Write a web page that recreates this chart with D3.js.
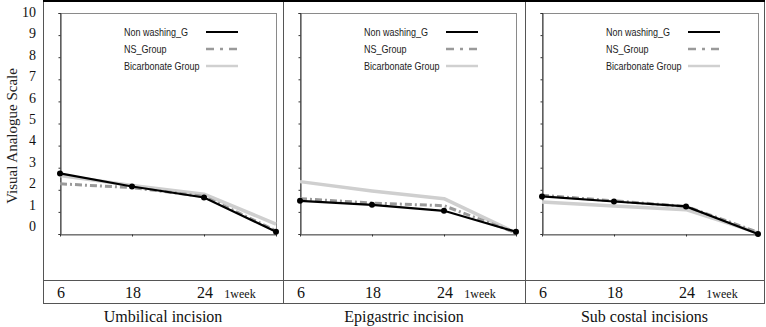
<!DOCTYPE html>
<html>
<head>
<meta charset="utf-8">
<script src="https://cdn.jsdelivr.net/npm/d3@7"></script>
<style>
  body { margin: 0; background: #fff; }
  svg { display: block; }
</style>
</head>
<body>
<svg id="chart" width="766" height="327"></svg>
<script>
// 値は図から読み取ったもの
const categories = ["6", "18", "24", "1week"];
const panelTitles = ["Umbilical incision", "Epigastric incision", "Sub costal incisions"];
const yTicks = [0, 1, 2, 3, 4, 5, 6, 7, 8, 9, 10];
const nonWashing = [[2.74, 2.15, 1.65, 0.1], [1.5, 1.32, 1.05, 0.1], [1.7, 1.47, 1.25, 0.0]];
const nsGroup = [[2.27, 2.1, 1.7, 0.15], [1.6, 1.4, 1.28, 0.05], [1.75, 1.5, 1.25, 0.08]];
const bicarbonate = [[2.65, 2.2, 1.8, 0.45], [2.37, 1.95, 1.6, 0.05], [1.45, 1.27, 1.1, 0.05]];
const seriesNames = ["Non washing_G", "NS_Group", "Bicarbonate Group"];

const svg = d3.select("#chart");
const serif = "'Liberation Serif', 'DejaVu Serif', serif";
const sans = "'Liberation Sans', sans-serif";

// 表の枠
const cellEdges = [43, 283, 525, 764];
const tableTop = 0, rowLine = 280, tableBottom = 303;
const grid = svg.append("g").attr("stroke", "#555").attr("stroke-width", 1);
cellEdges.forEach(x => {
    grid.append("line").attr("x1", x + 0.5).attr("x2", x + 0.5).attr("y1", tableTop).attr("y2", tableBottom);
});
grid.append("line").attr("x1", cellEdges[0]).attr("x2", cellEdges[3] + 1).attr("y1", rowLine + 0.5).attr("y2", rowLine + 0.5);
grid.append("line").attr("x1", cellEdges[0]).attr("x2", cellEdges[3] + 1).attr("y1", tableBottom + 0.5).attr("y2", tableBottom + 0.5);
svg.append("line").attr("x1", cellEdges[0]).attr("x2", cellEdges[3] + 1).attr("y1", 1).attr("y2", 1)
    .attr("stroke", "#000").attr("stroke-width", 2);

// 縦軸ラベル(表の外側)
const yLab = d3.scaleLinear().domain([0, 10]).range([226, 12]);
svg.append("g")
    .selectAll("text")
    .data(yTicks)
    .join("text")
    .attr("x", 36)
    .attr("y", d => yLab(d))
    .attr("dy", "0.35em")
    .attr("text-anchor", "end")
    .style("font", `14px ${serif}`)
    .attr("fill", "#111")
    .text(d => d);

svg.append("text")
    .attr("transform", "translate(12,136) rotate(-90)")
    .attr("text-anchor", "middle")
    .attr("dy", "0.35em")
    .style("font", `15px ${serif}`)
    .attr("fill", "#222")
    .text("Visual Analogue Scale");

const plotTop = 13, plotBottom = 234, plotW = 216;
const y = d3.scaleLinear().domain([0, 10]).range([plotBottom, plotTop]);

const line = d3.line()
    .x(d => d.x)
    .y(d => y(d.v));

panelTitles.forEach((title, i) => {
    const cellL = cellEdges[i], cellR = cellEdges[i + 1];
    const left = cellL + 17;
    const x = d3.scalePoint().domain(categories).range([left, left + plotW]);
    const g = svg.append("g");

    // プロット枠
    g.append("rect")
        .attr("x", left + 0.5).attr("y", plotTop + 0.5)
        .attr("width", plotW).attr("height", plotBottom - plotTop)
        .attr("fill", "none").attr("stroke", "#8a8a8a").attr("stroke-width", 1);

    const yAxis = g.append("g")
        .attr("transform", `translate(${left + 0.5},0)`)
        .call(d3.axisLeft(y).tickValues(yTicks).tickSize(2).tickFormat(""));
    yAxis.select(".domain").attr("stroke", "#333");
    yAxis.selectAll(".tick line").attr("stroke", "#333");

    const xAxis = g.append("g")
        .attr("transform", `translate(0,${plotBottom + 0.5})`)
        .call(d3.axisBottom(x).tickSize(2).tickSizeOuter(0).tickFormat(""));
    xAxis.select(".domain").attr("stroke", "#666");
    xAxis.selectAll(".tick line").attr("stroke", "#333");

    const pts = arr => arr.map((v, j) => ({ x: x(categories[j]), v }));

    g.append("path").datum(pts(bicarbonate[i]))
        .attr("d", line).attr("fill", "none")
        .attr("stroke", "#cfcfcf").attr("stroke-width", 3.5).attr("stroke-linejoin", "round");
    g.append("path").datum(pts(nsGroup[i]))
        .attr("d", line).attr("fill", "none")
        .attr("stroke", "#9a9a9a").attr("stroke-width", 3).attr("stroke-dasharray", "7,3,2,3");
    g.append("path").datum(pts(nonWashing[i]))
        .attr("d", line).attr("fill", "none")
        .attr("stroke", "#000").attr("stroke-width", 2.2);
    g.append("g").selectAll("circle")
        .data(pts(nonWashing[i]))
        .join("circle")
        .attr("cx", d => d.x).attr("cy", d => y(d.v)).attr("r", 3)
        .attr("fill", "#000");

    // 凡例
    const lx = left + plotW - 152;
    const leg = g.append("g");
    const styles = [
        { stroke: "#000", w: 2, dash: null },
        { stroke: "#9a9a9a", w: 2.5, dash: "8,6,3,6" },
        { stroke: "#d0d0d0", w: 2.5, dash: null }
    ];
    seriesNames.forEach((name, k) => {
        const ly = 32 + k * 17;
        leg.append("text")
            .attr("transform", `translate(${lx},${ly}) scale(0.82,1)`)
            .attr("dy", "0.35em")
            .style("font", `11px ${sans}`)
            .attr("fill", "#222")
            .text(name);
        leg.append("line")
            .attr("x1", lx + 82).attr("x2", lx + 114)
            .attr("y1", ly).attr("y2", ly)
            .attr("stroke", styles[k].stroke)
            .attr("stroke-width", styles[k].w)
            .attr("stroke-dasharray", styles[k].dash);
    });

    // 時間のラベル
    const labX = categories.map((c, j) => j < 3 ? x(c) + 1 : (x(categories[2]) + x(categories[3])) / 2);
    g.append("g").selectAll("text")
        .data(categories)
        .join("text")
        .attr("x", (d, j) => labX[j])
        .attr("y", 298)
        .attr("text-anchor", "middle")
        .style("font", (d, j) => j < 3 ? `16px ${serif}` : `12px ${serif}`)
        .attr("fill", "#111")
        .text(d => d);

    g.append("text")
        .attr("x", (cellL + cellR) / 2)
        .attr("y", 322)
        .attr("text-anchor", "middle")
        .style("font", `16px ${serif}`)
        .attr("fill", "#111")
        .text(title);
});
</script>
</body>
</html>
